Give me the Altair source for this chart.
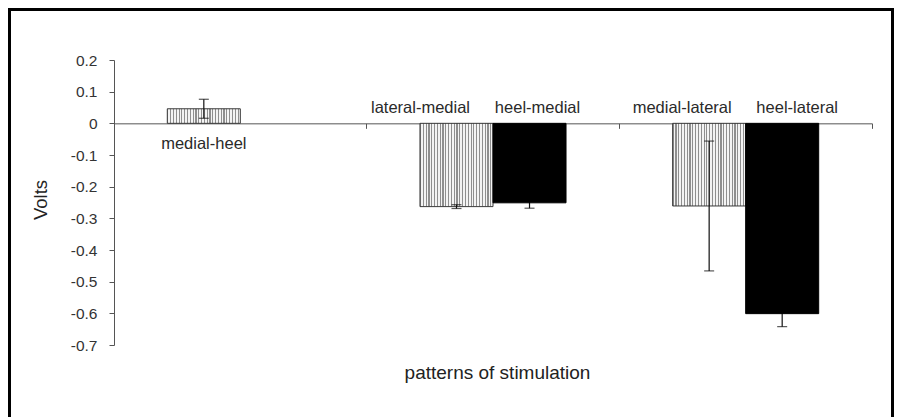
import altair as alt
import pandas as pd

# Mean response per stimulation pattern, grouped by the second site stimulated
groups = ["heel", "medial", "medial", "lateral", "lateral"]
series = ["site", "site", "heel", "site", "heel"]
patterns = ["medial-heel", "lateral-medial", "heel-medial", "medial-lateral", "heel-lateral"]
volts = [0.046, -0.263, -0.251, -0.261, -0.601]
errors = [0.030, 0.006, 0.017, 0.205, 0.041]

group_order = ["heel", "medial", "lateral"]
series_order = ["site", "heel"]

df = pd.DataFrame({
    "group": groups,
    "series": series,
    "pattern": patterns,
    "volts": volts,
    "err": errors,
})
df["lo"] = df["volts"] - df["err"]
df["hi"] = df["volts"] + df["err"]
df["zero"] = 0.0

FONT = "Liberation Sans"
W, H = 758, 285
Y_MIN, Y_MAX = -0.7, 0.2
ZERO_PX = H * Y_MAX / (Y_MAX - Y_MIN)

# Vertical-line hatching for the first series, built from gradient stops
n_lines = 26
stops = []
for i in range(n_lines):
    a = i / n_lines
    b = (i + 0.4) / n_lines
    stops += [
        alt.GradientStop(color="#8f8f8f", offset=a),
        alt.GradientStop(color="#8f8f8f", offset=b),
        alt.GradientStop(color="#f4f4f4", offset=b),
        alt.GradientStop(color="#f4f4f4", offset=(i + 1) / n_lines),
    ]
hatch = alt.Gradient(gradient="linear", stops=stops, x1=0, x2=1, y1=0, y2=0)

x_enc = alt.X(
    "group:N",
    sort=group_order,
    scale=alt.Scale(paddingInner=0, paddingOuter=0),
    axis=alt.Axis(
        labels=False,
        ticks=True,
        tickSize=5,
        tickColor="#555555",
        domain=True,
        domainColor="#555555",
        bandPosition=1,
        offset=-(H - ZERO_PX),
        grid=False,
        title="patterns of stimulation",
        titleFont=FONT,
        titleFontSize=19,
        titleFontWeight="normal",
        titleColor="#222222",
        titleX=W / 2 + 4,
        titleY=372 - 60 - ZERO_PX,
        titleBaseline="middle",
    ),
)
xo_enc = alt.XOffset(
    "series:N",
    sort=series_order,
    scale=alt.Scale(paddingInner=0, paddingOuter=0.73),
)
y_scale = alt.Scale(domain=[Y_MIN, Y_MAX], nice=False, zero=False)
y_axis = alt.Axis(
    values=[0.2, 0.1, 0, -0.1, -0.2, -0.3, -0.4, -0.5, -0.6, -0.7],
    labelExpr="replace(format(datum.value, '.1~f'), '\u2212', '-')",
    tickSize=5,
    tickColor="#555555",
    domainColor="#555555",
    labelPadding=12,
    labelFont=FONT,
    labelFontSize=15.5,
    labelColor="#333333",
    grid=False,
    title="Volts",
    titleFont=FONT,
    titleFontSize=18.5,
    titleFontWeight="normal",
    titleColor="#222222",
    titleX=-74,
    titleY=H / 2 - 3,
    titleBaseline="middle",
)

base = alt.Chart(df)

bars_site = base.transform_filter(alt.datum.series == "site").mark_bar(
    fill=hatch, stroke="#3a3a3a", strokeWidth=1
).encode(
    x=x_enc,
    xOffset=xo_enc,
    y=alt.Y("volts:Q", scale=y_scale, axis=y_axis),
    y2=alt.Y2("zero:Q"),
)

bars_heel = base.transform_filter(alt.datum.series == "heel").mark_bar(
    fill="#000000", stroke="#000000", strokeWidth=1
).encode(
    x=x_enc,
    xOffset=xo_enc,
    y=alt.Y("volts:Q", scale=y_scale, axis=y_axis),
    y2=alt.Y2("zero:Q"),
)

err_line = base.mark_rule(color="#111111", strokeWidth=1.2).encode(
    x=x_enc,
    xOffset=xo_enc,
    y=alt.Y("lo:Q", scale=y_scale, axis=y_axis),
    y2="hi:Q",
)
cap_lo = base.mark_tick(color="#111111", size=10, thickness=1.2).encode(
    x=x_enc, xOffset=xo_enc, y=alt.Y("lo:Q", scale=y_scale, axis=y_axis)
)
cap_hi = base.mark_tick(color="#111111", size=10, thickness=1.2).encode(
    x=x_enc, xOffset=xo_enc, y=alt.Y("hi:Q", scale=y_scale, axis=y_axis)
)

# Pattern names sit beside the zero line, nudged as in the original layout
nudges = {
    "medial-heel": (0, 21),
    "lateral-medial": (-36, -15),
    "heel-medial": (8, -15),
    "medial-lateral": (-27, -15),
    "heel-lateral": (15, -15),
}
label_layers = []
for name, (ddx, ddy) in nudges.items():
    label_layers.append(
        base.transform_filter(alt.datum.pattern == name).mark_text(
            font=FONT, fontSize=16.5, color="#2a2a2a", dx=ddx, dy=ddy,
            baseline="middle", align="center",
        ).encode(
            x=x_enc,
            xOffset=xo_enc,
            y=alt.Y("zero:Q", scale=y_scale, axis=y_axis),
            text="pattern:N",
        )
    )

# Outer frame around the whole figure
frame = alt.Chart(pd.DataFrame({"f": [0]})).mark_rect(
    fill=None, stroke="#000000", strokeWidth=3, clip=False
).encode(
    x=alt.value(9.5 - 114),
    x2=alt.value(892.5 - 114),
    y=alt.value(9.5 - 60),
    y2=alt.value(440 - 60),
)

# Error bars go under the solid bars so their upper halves stay hidden there
chart = alt.layer(
    bars_site, err_line, cap_lo, cap_hi, bars_heel, *label_layers, frame
).properties(
    width=W,
    height=H,
    autosize=alt.AutoSizeParams(type="none"),
    padding={"left": 114, "top": 60, "right": 25, "bottom": 72},
    background="white",
).configure_view(stroke=None)

chart.save("out.html", embed_options={"renderer": "svg", "actions": False})
